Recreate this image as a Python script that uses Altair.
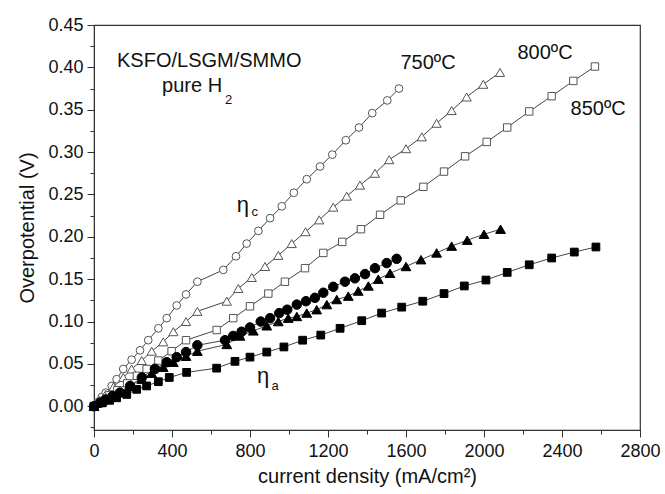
import altair as alt
import pandas as pd

# ---- data ----
c750_x = [0, 20, 40, 60, 91, 116, 150, 193, 236, 278, 330, 373, 424, 472, 530, 663, 728, 783, 843, 903, 963, 1025, 1091, 1159, 1222, 1291, 1359, 1427, 1504, 1564]
c750_y = [0, 0.005, 0.011, 0.016, 0.024, 0.032, 0.044, 0.055, 0.066, 0.078, 0.092, 0.104, 0.119, 0.132, 0.147, 0.161, 0.177, 0.192, 0.207, 0.222, 0.236, 0.252, 0.268, 0.283, 0.297, 0.314, 0.329, 0.346, 0.361, 0.375]

c800_x = [0, 30, 60, 100, 150, 193, 245, 296, 355, 407, 472, 530, 681, 740, 809, 877, 945, 1014, 1085, 1155, 1227, 1296, 1364, 1441, 1514, 1600, 1681, 1757, 1834, 1911, 1996, 2082]
c800_y = [0, 0.007, 0.014, 0.023, 0.034, 0.044, 0.054, 0.065, 0.076, 0.088, 0.100, 0.112, 0.124, 0.139, 0.152, 0.165, 0.178, 0.192, 0.206, 0.220, 0.235, 0.248, 0.261, 0.275, 0.291, 0.304, 0.318, 0.334, 0.349, 0.365, 0.380, 0.394]

c850_x = [0, 40, 80, 120, 170, 220, 270, 330, 398, 472, 629, 714, 800, 894, 979, 1082, 1176, 1273, 1369, 1467, 1573, 1689, 1795, 1903, 2014, 2119, 2232, 2347, 2458, 2569]
c850_y = [0, 0.006, 0.013, 0.019, 0.027, 0.036, 0.044, 0.054, 0.065, 0.078, 0.090, 0.104, 0.118, 0.133, 0.147, 0.163, 0.181, 0.194, 0.209, 0.226, 0.243, 0.259, 0.277, 0.295, 0.312, 0.329, 0.348, 0.366, 0.384, 0.401]

a750_x = [0, 30, 60, 95, 133, 185, 245, 313, 373, 424, 472, 530, 672, 714, 757, 800, 855, 903, 950, 991, 1040, 1087, 1133, 1176, 1227, 1287, 1338, 1390, 1441, 1501, 1552]
a750_y = [0, 0.004, 0.008, 0.012, 0.016, 0.024, 0.034, 0.044, 0.052, 0.058, 0.064, 0.072, 0.078, 0.083, 0.088, 0.093, 0.100, 0.104, 0.110, 0.114, 0.120, 0.124, 0.128, 0.134, 0.141, 0.147, 0.151, 0.156, 0.163, 0.169, 0.174]

a800_x = [0, 40, 80, 130, 185, 245, 296, 355, 407, 472, 530, 681, 749, 817, 886, 945, 996, 1040, 1091, 1142, 1194, 1245, 1304, 1355, 1407, 1458, 1518, 1600, 1677, 1757, 1834, 1914, 2000, 2085]
a800_y = [0, 0.005, 0.011, 0.017, 0.024, 0.032, 0.039, 0.046, 0.052, 0.059, 0.065, 0.073, 0.083, 0.089, 0.095, 0.100, 0.104, 0.106, 0.110, 0.114, 0.120, 0.126, 0.130, 0.136, 0.142, 0.150, 0.157, 0.165, 0.173, 0.181, 0.189, 0.196, 0.203, 0.209]

a850_x = [0, 40, 80, 116, 168, 219, 270, 330, 386, 475, 629, 723, 800, 886, 974, 1070, 1163, 1262, 1373, 1475, 1578, 1686, 1795, 1899, 2010, 2119, 2232, 2347, 2463, 2574]
a850_y = [0, 0.004, 0.007, 0.010, 0.014, 0.020, 0.024, 0.029, 0.034, 0.040, 0.045, 0.053, 0.058, 0.064, 0.070, 0.078, 0.084, 0.092, 0.101, 0.110, 0.117, 0.124, 0.133, 0.142, 0.149, 0.158, 0.167, 0.175, 0.182, 0.188]

x_ticks = [0, 200, 400, 600, 800, 1000, 1200, 1400, 1600, 1800, 2000, 2200, 2400, 2600, 2800]
y_ticks = [-0.025, 0.0, 0.025, 0.05, 0.075, 0.1, 0.125, 0.15, 0.175, 0.2, 0.225, 0.25, 0.275,
           0.3, 0.325, 0.35, 0.375, 0.4, 0.425, 0.45]

# annotations: text, x, y
ann_text = ["KSFO/LSGM/SMMO", "pure H", "750ºC", "800ºC", "850ºC"]
ann_x = [118, 349, 1713, 2313, 2585]
ann_y = [0.401, 0.371, 0.405, 0.417, 0.351]
ann_align = ["left", "left", "center", "center", "center"]
ann_base = ["alphabetic", "alphabetic", "middle", "middle", "middle"]

eta_text = ["η", "η"]
eta_x = [764, 867]
eta_y = [0.237, 0.036]
sub_text = ["c", "a", "2"]
sub_x = [808, 910, 672]
sub_y = [0.229, 0.024, 0.361]

FONT = "Liberation Sans"
GRAY = "#555555"

series = [
    (c750_x, c750_y, "circle", "white", GRAY, 60),
    (c800_x, c800_y, "triangle-up", "white", GRAY, 85),
    (c850_x, c850_y, "square", "white", GRAY, 55),
    (a750_x, a750_y, "circle", "black", "black", 90),
    (a800_x, a800_y, "triangle-up", "black", "black", 95),
    (a850_x, a850_y, "square", "black", "black", 60),
]

major_y = "abs(datum.value*20 - round(datum.value*20)) < 0.001"
major_x = "abs(datum.value/400 - round(datum.value/400)) < 0.001"

xscale = alt.Scale(domain=[0, 2800], nice=False, zero=False)
yscale = alt.Scale(domain=[-0.028, 0.45], nice=False, zero=False)

xaxis = alt.Axis(
    values=x_ticks, grid=False,
    labelExpr=f"{major_x} ? format(datum.value, 'd') : ''",
    tickSize={"condition": {"test": major_x, "value": 7}, "value": 4},
    tickColor="#333333", domainColor="#333333", tickWidth=1,
    labelFont=FONT, labelFontSize=18, labelColor="#111111", labelPadding=5,
    titleFont=FONT, titleFontSize=20, titleFontWeight="normal", titleColor="#111111",
    titlePadding=6, labelFlush=False, labelOverlap=False,
)
yaxis = alt.Axis(
    values=y_ticks, grid=False,
    labelExpr=f"{major_y} ? format(datum.value, '.2f') : ''",
    tickSize={"condition": {"test": major_y, "value": 7}, "value": 4},
    tickColor="#333333", domainColor="#333333", tickWidth=1,
    labelFont=FONT, labelFontSize=18, labelColor="#111111", labelPadding=4,
    titleFont=FONT, titleFontSize=20, titleFontWeight="normal", titleColor="#111111",
    titlePadding=10, labelFlush=False, labelOverlap=False,
)

X = alt.X("x:Q", scale=xscale, axis=xaxis, title="current density (mA/cm²)")
Y = alt.Y("y:Q", scale=yscale, axis=yaxis, title="Overpotential (V)")

layers = []
for xs, ys, shape, fill, stroke, size in series:
    df = pd.DataFrame({"x": xs, "y": ys})
    layers.append(alt.Chart(df).mark_line(color="#444444", strokeWidth=1).encode(x=X, y=Y))
for xs, ys, shape, fill, stroke, size in series:
    df = pd.DataFrame({"x": xs, "y": ys})
    layers.append(alt.Chart(df).mark_point(shape=shape, filled=True, fill=fill, stroke=stroke,
                                           strokeWidth=1, size=size, opacity=1).encode(x=X, y=Y))

for t, x, y, al, bl in zip(ann_text, ann_x, ann_y, ann_align, ann_base):
    df = pd.DataFrame({"x": [x], "y": [y], "t": [t]})
    layers.append(alt.Chart(df).mark_text(font=FONT, fontSize=20, color="#111111",
                                          align=al, baseline=bl)
                  .encode(x=X, y=Y, text="t:N"))

eta_df = pd.DataFrame({"x": eta_x, "y": eta_y, "t": eta_text})
layers.append(alt.Chart(eta_df).mark_text(font=FONT, fontSize=22, color="#111111",
                                          align="center", baseline="middle")
              .encode(x=X, y=Y, text="t:N"))
sub_df = pd.DataFrame({"x": sub_x, "y": sub_y, "t": sub_text})
layers.append(alt.Chart(sub_df).mark_text(font=FONT, fontSize=13, color="#111111",
                                          align="left", baseline="middle")
              .encode(x=X, y=Y, text="t:N"))

chart = alt.layer(*layers).properties(
    width=546, height=405,
    padding={"left": 94, "top": 25, "right": 25, "bottom": 64},
    autosize="none",
    background="white",
).configure_view(stroke="#333333", strokeWidth=1.2)

chart.save("out.html", embed_options={"renderer": "svg", "actions": False})
